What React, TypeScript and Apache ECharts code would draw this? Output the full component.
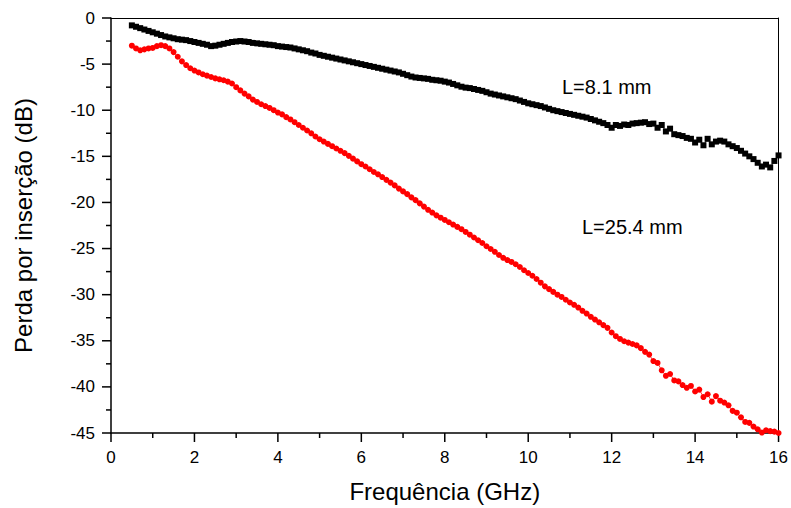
import React, { useEffect, useRef } from "react";
import * as echarts from "echarts";

const freqs: number[] = [
  0.5, 0.6, 0.7, 0.8, 0.9, 1.0, 1.1, 1.2, 1.3, 1.4, 1.5, 1.6, 1.7, 1.8, 1.9,
  2.0, 2.1, 2.2, 2.3, 2.4, 2.5, 2.6, 2.7, 2.8, 2.9, 3.0, 3.1, 3.2, 3.3, 3.4,
  3.5, 3.6, 3.7, 3.8, 3.9, 4.0, 4.1, 4.2, 4.3, 4.4, 4.5, 4.6, 4.7, 4.8, 4.9,
  5.0, 5.1, 5.2, 5.3, 5.4, 5.5, 5.6, 5.7, 5.8, 5.9, 6.0, 6.1, 6.2, 6.3, 6.4,
  6.5, 6.6, 6.7, 6.8, 6.9, 7.0, 7.1, 7.2, 7.3, 7.4, 7.5, 7.6, 7.7, 7.8, 7.9,
  8.0, 8.1, 8.2, 8.3, 8.4, 8.5, 8.6, 8.7, 8.8, 8.9, 9.0, 9.1, 9.2, 9.3, 9.4,
  9.5, 9.6, 9.7, 9.8, 9.9, 10.0, 10.1, 10.2, 10.3, 10.4, 10.5, 10.6, 10.7, 10.8, 10.9,
  11.0, 11.1, 11.2, 11.3, 11.4, 11.5, 11.6, 11.7, 11.8, 11.9, 12.0, 12.1, 12.2, 12.3, 12.4,
  12.5, 12.6, 12.7, 12.8, 12.9, 13.0, 13.1, 13.2, 13.3, 13.4, 13.5, 13.6, 13.7, 13.8, 13.9,
  14.0, 14.1, 14.2, 14.3, 14.4, 14.5, 14.6, 14.7, 14.8, 14.9, 15.0, 15.1, 15.2, 15.3, 15.4,
  15.5, 15.6, 15.7, 15.8, 15.9, 16.0,
];

// L = 8.1 mm (black squares)
const loss8_1: number[] = [
  -0.8, -0.95, -1.1, -1.25, -1.4, -1.55, -1.7, -1.85, -2.0, -2.1, -2.2, -2.3, -2.35, -2.4, -2.5,
  -2.6, -2.7, -2.8, -2.9, -3.05, -3.0, -2.9, -2.8, -2.7, -2.6, -2.55, -2.5, -2.55, -2.6, -2.7,
  -2.75, -2.8, -2.85, -2.9, -2.95, -3.05, -3.1, -3.15, -3.2, -3.3, -3.4, -3.5, -3.6, -3.75, -3.85,
  -4.0, -4.1, -4.2, -4.3, -4.4, -4.5, -4.6, -4.7, -4.8, -4.9, -5.0, -5.1, -5.2, -5.3, -5.4,
  -5.5, -5.6, -5.7, -5.8, -5.9, -6.05, -6.2, -6.35, -6.45, -6.5, -6.55, -6.6, -6.7, -6.75, -6.8,
  -6.9, -7.0, -7.15, -7.3, -7.45, -7.55, -7.6, -7.7, -7.8, -7.9, -8.05, -8.2, -8.3, -8.4, -8.5,
  -8.6, -8.7, -8.8, -8.95, -9.1, -9.25, -9.35, -9.45, -9.55, -9.7, -9.85, -10.0, -10.1, -10.2, -10.3,
  -10.4, -10.5, -10.6, -10.7, -10.8, -10.95, -11.1, -11.25, -11.4, -11.6, -11.9, -11.6, -11.7, -11.55, -11.6,
  -11.45, -11.4, -11.35, -11.3, -11.5, -11.45, -11.9, -11.6, -12.3, -12.0, -12.6, -12.7, -12.8, -13.0, -13.1,
  -13.5, -13.2, -13.8, -13.1, -13.7, -13.4, -13.3, -13.4, -13.7, -13.9, -14.1, -14.4, -14.7, -15.0, -15.3,
  -15.7, -16.1, -15.9, -16.2, -15.5, -14.9,
];

// L = 25.4 mm (red circles)
const loss25_4: number[] = [
  -3.0, -3.3, -3.5, -3.4, -3.3, -3.25, -3.05, -2.95, -3.05, -3.3, -3.7, -4.2, -4.7, -5.1, -5.45,
  -5.7, -5.9, -6.1, -6.25, -6.4, -6.55, -6.65, -6.75, -6.9, -7.1, -7.5, -7.85, -8.2, -8.5, -8.85,
  -9.1, -9.35, -9.55, -9.75, -10.0, -10.25, -10.45, -10.75, -11.0, -11.3, -11.6, -11.9, -12.2, -12.5, -12.85,
  -13.15, -13.4, -13.65, -13.9, -14.15, -14.4, -14.65, -14.95, -15.25, -15.55, -15.85, -16.1, -16.4, -16.7, -16.95,
  -17.25, -17.55, -17.85, -18.15, -18.5, -18.8, -19.1, -19.45, -19.75, -20.1, -20.45, -20.8, -21.1, -21.4, -21.65,
  -21.9, -22.15, -22.4, -22.65, -22.9, -23.2, -23.5, -23.8, -24.1, -24.4, -24.75, -25.05, -25.35, -25.7, -26.0,
  -26.25, -26.45, -26.7, -27.0, -27.35, -27.65, -27.95, -28.3, -28.7, -29.1, -29.4, -29.7, -30.0, -30.25, -30.55,
  -30.85, -31.1, -31.4, -31.75, -32.05, -32.4, -32.7, -33.0, -33.3, -33.6, -34.1, -34.5, -34.8, -35.05, -35.2,
  -35.35, -35.5, -35.8, -36.2, -36.5, -37.2, -37.4, -38.2, -38.8, -38.6, -39.3, -39.4, -39.8, -40.1, -39.9,
  -40.5, -40.3, -41.1, -40.8, -41.6, -41.0, -41.5, -41.7, -42.0, -42.6, -42.8, -43.3, -43.8, -43.9, -44.3,
  -44.6, -44.95, -44.7, -44.8, -44.85, -45.0,
];

const xTicks = { min: 0, max: 16, interval: 2 };
const yTicks = { min: -45, max: 0, interval: 5 };
const labels = { short: "L=8.1 mm", long: "L=25.4 mm" };
const axisNames = { x: "Frequência (GHz)", y: "Perda por inserção (dB)" };

const FONT = "'Liberation Sans', Arial, Helvetica, sans-serif";

// tick marks (major + minor halfway) generated from the axis ranges
function tickValues(r: { min: number; max: number; interval: number }) {
  const out: { v: number; major: number }[] = [];
  const n = Math.round((r.max - r.min) / (r.interval / 2));
  for (let i = 0; i <= n; i++) {
    out.push({ v: r.min + (i * r.interval) / 2, major: i % 2 === 0 ? 1 : 0 });
  }
  return out;
}

function axisStyle(labelMargin: number) {
  return {
    axisLine: { show: true, onZero: false, lineStyle: { color: "#000", width: 1.5 } },
    axisTick: { show: false },
    minorTick: { show: false },
    splitLine: { show: false },
    axisLabel: { color: "#000", fontSize: 17, fontFamily: FONT, margin: labelMargin },
    nameTextStyle: { color: "#000", fontSize: 24, fontFamily: FONT },
    nameLocation: "middle",
  };
}

function frameAxis(position: string, range: { min: number; max: number; interval: number }) {
  return {
    type: "value",
    position,
    ...range,
    axisLine: { show: true, onZero: false, lineStyle: { color: "#000", width: 1 } },
    axisTick: { show: false },
    axisLabel: { show: false },
    splitLine: { show: false },
  };
}

export default function App() {
  const ref = useRef<HTMLDivElement>(null);
  useEffect(() => {
    document.body.style.margin = "0";
    if (!ref.current) return;
    const chart = echarts.init(ref.current, null, { renderer: "svg" });

    const tickData: number[][] = [
      ...tickValues(xTicks).map((t) => [t.v, yTicks.min, 0, t.major]),
      ...tickValues(yTicks).map((t) => [xTicks.min, t.v, 1, t.major]),
    ];

    chart.setOption({
      animation: false,
      grid: { left: 111, right: 9, top: 18, bottom: 72 },
      xAxis: [
        {
          type: "value",
          position: "bottom",
          ...xTicks,
          ...axisStyle(16),
          name: axisNames.x,
          nameGap: 46,
        },
        frameAxis("top", xTicks),
      ],
      yAxis: [
        {
          type: "value",
          position: "left",
          ...yTicks,
          ...axisStyle(16),
          name: axisNames.y,
          nameGap: 76,
          nameRotate: 90,
        },
        frameAxis("right", yTicks),
      ],
      series: [
        {
          type: "custom",
          xAxisIndex: 0,
          yAxisIndex: 0,
          silent: true,
          clip: false,
          data: tickData,
          renderItem: (_params: any, api: any) => {
            const p = api.coord([api.value(0), api.value(1)]);
            const isY = api.value(2) === 1;
            const len = api.value(3) === 1 ? 9 : 5;
            const shape = isY
              ? { x1: p[0] - len, y1: p[1], x2: p[0], y2: p[1] }
              : { x1: p[0], y1: p[1], x2: p[0], y2: p[1] + len };
            return {
              type: "line",
              shape,
              style: { stroke: "#000", lineWidth: 1.5 },
            };
          },
        },
        {
          type: "line",
          name: labels.short,
          xAxisIndex: 0,
          yAxisIndex: 0,
          data: freqs.map((f, i) => [f, loss8_1[i]]),
          symbol: "rect",
          symbolSize: 6,
          showAllSymbol: true,
          itemStyle: { color: "#000" },
          lineStyle: { color: "#000", width: 0.8 },
        },
        {
          type: "line",
          name: labels.long,
          xAxisIndex: 0,
          yAxisIndex: 0,
          data: freqs.map((f, i) => [f, loss25_4[i]]),
          symbol: "circle",
          symbolSize: 6,
          showAllSymbol: true,
          itemStyle: { color: "#ff0000" },
          lineStyle: { color: "#ff0000", width: 0.8 },
        },
      ],
      graphic: [
        {
          type: "text",
          left: 562,
          top: 77,
          style: { text: labels.short, fill: "#000", fontSize: 20, fontFamily: FONT },
        },
        {
          type: "text",
          left: 582,
          top: 217,
          style: { text: labels.long, fill: "#000", fontSize: 20, fontFamily: FONT },
        },
      ],
    });
    return () => chart.dispose();
  }, []);
  return <div ref={ref} style={{ width: 791, height: 508 }} />;
}
